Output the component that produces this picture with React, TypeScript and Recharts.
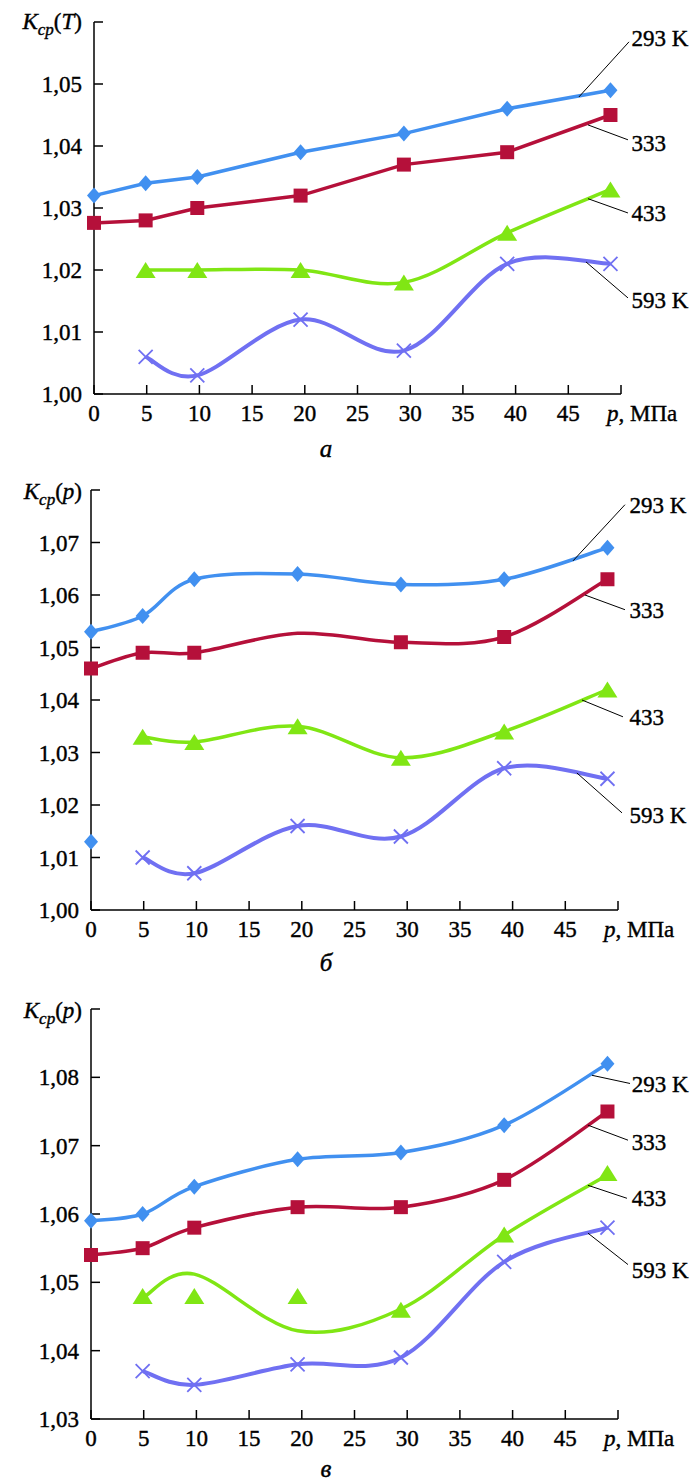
import React from 'react';
import { LineChart, Line, XAxis, YAxis, ReferenceLine, ReferenceDot } from 'recharts';

const FONT = '"Liberation Serif", "Times New Roman", serif';
const TXT_STROKE = 0.4;

// давление, МПа
const P = [0, 4.9, 9.8, 19.6, 29.4, 39.2, 49];
const X_TICKS = [0, 5, 10, 15, 20, 25, 30, 35, 40, 45, 50];

// панель а — Kср(T)
const a293 = [1.032, 1.034, 1.035, 1.039, 1.042, 1.046, 1.049];
const a333 = [1.0276, 1.028, 1.030, 1.032, 1.037, 1.039, 1.045];
const a433 = [null, 1.020, 1.020, 1.020, 1.018, 1.026, 1.033];
const a593 = [null, 1.006, 1.003, 1.012, 1.007, 1.021, 1.021];
const aTicks = [1.0, 1.01, 1.02, 1.03, 1.04, 1.05, 1.06];

// панель б — Kср(p)
const b293 = [1.053, 1.056, 1.063, 1.064, 1.062, 1.063, 1.069];
const b293extra = [1.013, null, null, null, null, null, null];
const b333 = [1.046, 1.049, 1.049, 1.0527, 1.051, 1.052, 1.063];
const b333pts = [1.046, 1.049, 1.049, null, 1.051, 1.052, 1.063];
const b433 = [null, 1.033, 1.032, 1.035, 1.029, 1.034, 1.042];
const b593 = [null, 1.010, 1.007, 1.016, 1.014, 1.027, 1.025];
const bTicks = [1.0, 1.01, 1.02, 1.03, 1.04, 1.05, 1.06, 1.07, 1.08];

// панель в — Kср(p)
const v293 = [1.059, 1.060, 1.064, 1.068, 1.069, 1.073, 1.082];
const v333 = [1.054, 1.055, 1.058, 1.061, 1.061, 1.065, 1.075];
const v433 = [null, 1.0477, 1.0512, 1.0429, 1.0461, 1.0569, 1.0657];
const v433pts = [null, 1.048, 1.048, 1.048, 1.046, 1.057, 1.066];
const v593 = [null, 1.037, 1.035, 1.038, 1.039, 1.053, 1.058];
const vTicks = [1.03, 1.04, 1.05, 1.06, 1.07, 1.08, 1.09];

const BLUE = '#4190f0';
const RED = '#b5103a';
const GREEN = '#80e614';
const PURPLE = '#7070f2';

// сглаживание как в Excel (Catmull-Rom через кривые Безье)
const smooth = (context: any) => {
  let pts: number[][] = [];
  return {
    areaStart() {},
    areaEnd() {},
    lineStart() {
      pts = [];
    },
    point(x: number, y: number) {
      pts.push([+x, +y]);
    },
    lineEnd() {
      const n = pts.length;
      if (!n) return;
      context.moveTo(pts[0][0], pts[0][1]);
      for (let i = 0; i < n - 1; i++) {
        const p0 = pts[Math.max(i - 1, 0)];
        const p1 = pts[i];
        const p2 = pts[i + 1];
        const p3 = pts[Math.min(i + 2, n - 1)];
        context.bezierCurveTo(
          p1[0] + (p2[0] - p0[0]) / 6,
          p1[1] + (p2[1] - p0[1]) / 6,
          p2[0] - (p3[0] - p1[0]) / 6,
          p2[1] - (p3[1] - p1[1]) / 6,
          p2[0],
          p2[1]
        );
      }
    },
  };
};

type Shape = 'diamond' | 'square' | 'triangle' | 'cross';
type Series = {
  line: (number | null)[];
  pts: (number | null)[];
  color: string;
  shape: Shape;
  curve: any;
  width: number;
};
type Note = { text: string; from: [number, number]; to: [number, number]; at: [number, number] };

const makeDot = (shape: Shape, color: string) => (props: any) => {
  const { cx, cy, index } = props;
  if (cx == null || cy == null || isNaN(cy)) return <g key={index} />;
  if (shape === 'diamond')
    return <polygon key={index} points={`${cx},${cy - 8} ${cx + 7},${cy} ${cx},${cy + 8} ${cx - 7},${cy}`} fill={color} />;
  if (shape === 'square') return <rect key={index} x={cx - 7} y={cy - 7} width={14} height={14} fill={color} />;
  if (shape === 'triangle')
    return <polygon key={index} points={`${cx},${cy - 8} ${cx + 10},${cy + 8} ${cx - 10},${cy + 8}`} fill={color} />;
  return (
    <path
      key={index}
      d={`M${cx - 7},${cy - 7}L${cx + 7},${cy + 7}M${cx + 7},${cy - 7}L${cx - 7},${cy + 7}`}
      stroke={color}
      strokeWidth={1.8}
      fill="none"
    />
  );
};

const XTick = (props: any) => {
  const { x, y, payload } = props;
  const common = { fill: '#000', stroke: '#000', strokeWidth: TXT_STROKE, fontSize: 23, fontFamily: FONT };
  if (payload.value === 50) {
    return (
      <text x={x - 14} y={y} dy="0.72em" textAnchor="start" {...common}>
        <tspan fontStyle="italic">p</tspan>, МПа
      </text>
    );
  }
  return (
    <text x={x} y={y} dy="0.72em" textAnchor="middle" {...common}>
      {payload.value}
    </text>
  );
};

interface PanelProps {
  top: number;
  height: number;
  yWidth: number;
  right: number;
  yTicks: number[];
  series: Series[];
  notes: Note[];
}

const Panel: React.FC<PanelProps> = ({ top, height, yWidth, right, yTicks, series, notes }) => {
  const rows = P.map((p, i) => {
    const row: any = { p };
    series.forEach((s, k) => {
      row['l' + k] = s.line[i];
      row['m' + k] = s.pts[i];
    });
    return row;
  });
  const yMax = yTicks[yTicks.length - 1];
  const axisStyle = { stroke: '#000', strokeWidth: 1.5 };
  return (
    <div style={{ position: 'absolute', left: 0, top }}>
      <LineChart width={695} height={height} data={rows} margin={{ top: 22, right, left: 0, bottom: 0 }}>
        <XAxis
          type="number"
          dataKey="p"
          domain={[0, 50]}
          ticks={X_TICKS}
          interval={0}
          height={36}
          tickSize={-9}
          tickMargin={19}
          axisLine={axisStyle}
          tickLine={axisStyle}
          tick={<XTick />}
        />
        <YAxis
          type="number"
          domain={[yTicks[0], yMax]}
          ticks={yTicks}
          interval={0}
          width={yWidth}
          tickSize={-9}
          tickMargin={21}
          axisLine={axisStyle}
          tickLine={axisStyle}
          tick={{ fill: '#000', stroke: '#000', strokeWidth: TXT_STROKE, fontSize: 23, fontFamily: FONT }}
          tickFormatter={(v: number) => (v === yMax ? '' : v.toFixed(2).replace('.', ','))}
        />
        {series.map((s, k) => (
          <Line
            key={'l' + k}
            dataKey={'l' + k}
            type={s.curve}
            stroke={s.color}
            strokeWidth={s.width}
            dot={false}
            activeDot={false}
            isAnimationActive={false}
          />
        ))}
        {series.map((s, k) => (
          <Line
            key={'m' + k}
            dataKey={'m' + k}
            stroke="none"
            strokeWidth={0}
            dot={makeDot(s.shape, s.color)}
            activeDot={false}
            isAnimationActive={false}
          />
        ))}
        {notes.map((n, i) => (
          <ReferenceLine
            key={'n' + i}
            segment={[
              { x: n.from[0], y: n.from[1] },
              { x: n.to[0], y: n.to[1] },
            ]}
            stroke="#000"
            strokeWidth={1}
            ifOverflow="visible"
          />
        ))}
        {notes.map((n, i) => (
          <ReferenceDot
            key={'t' + i}
            x={n.at[0]}
            y={n.at[1]}
            r={0}
            fill="none"
            stroke="none"
            ifOverflow="visible"
            label={{
              value: n.text,
              position: 'right',
              offset: 0,
              fill: '#000',
              stroke: '#000',
              strokeWidth: TXT_STROKE,
              fontSize: 23,
              fontFamily: FONT,
            }}
          />
        ))}
      </LineChart>
    </div>
  );
};

const seriesA: Series[] = [
  { line: a293, pts: a293, color: BLUE, shape: 'diamond', curve: 'linear', width: 3.5 },
  { line: a333, pts: a333, color: RED, shape: 'square', curve: 'linear', width: 3.5 },
  { line: a433, pts: a433, color: GREEN, shape: 'triangle', curve: smooth, width: 3.5 },
  { line: a593, pts: a593, color: PURPLE, shape: 'cross', curve: smooth, width: 4 },
];
const notesA: Note[] = [
  { text: '293 K', from: [46.0, 1.0479], to: [50.76, 1.0568], at: [51.0, 1.0574] },
  { text: '333', from: [46.87, 1.0434], to: [50.66, 1.041], at: [51.0, 1.0405] },
  { text: '433', from: [46.87, 1.0315], to: [50.66, 1.0292], at: [51.0, 1.0292] },
  { text: '593 K', from: [46.68, 1.0213], to: [50.66, 1.0155], at: [51.0, 1.0152] },
];

const seriesB: Series[] = [
  { line: b293, pts: b293, color: BLUE, shape: 'diamond', curve: smooth, width: 3.5 },
  { line: b333, pts: b333pts, color: RED, shape: 'square', curve: smooth, width: 3.5 },
  { line: b433, pts: b433, color: GREEN, shape: 'triangle', curve: smooth, width: 3.5 },
  { line: b593, pts: b593, color: PURPLE, shape: 'cross', curve: smooth, width: 4 },
  { line: [], pts: b293extra, color: BLUE, shape: 'diamond', curve: 'linear', width: 0 },
];
const notesB: Note[] = [
  { text: '293 K', from: [45.73, 1.0665], to: [50.66, 1.0772], at: [51.1, 1.0772] },
  { text: '333', from: [46.87, 1.06], to: [50.66, 1.0572], at: [51.1, 1.0572] },
  { text: '433', from: [46.58, 1.04], to: [50.47, 1.0368], at: [51.1, 1.0368] },
  { text: '593 K', from: [46.1, 1.0261], to: [50.38, 1.0185], at: [51.1, 1.0181] },
];

const seriesV: Series[] = [
  { line: v293, pts: v293, color: BLUE, shape: 'diamond', curve: smooth, width: 3.5 },
  { line: v333, pts: v333, color: RED, shape: 'square', curve: smooth, width: 3.5 },
  { line: v433, pts: v433pts, color: GREEN, shape: 'triangle', curve: smooth, width: 3.5 },
  { line: v593, pts: v593, color: PURPLE, shape: 'cross', curve: smooth, width: 4 },
];
const notesV: Note[] = [
  { text: '293 K', from: [47.53, 1.0803], to: [51.14, 1.0791], at: [51.3, 1.0791] },
  { text: '333', from: [47.15, 1.073], to: [50.95, 1.0708], at: [51.3, 1.0705] },
  { text: '433', from: [47.15, 1.0642], to: [50.85, 1.0623], at: [51.3, 1.0623] },
  { text: '593 K', from: [47.15, 1.0572], to: [50.95, 1.0526], at: [51.3, 1.0518] },
];

const htmlText: React.CSSProperties = {
  position: 'absolute',
  fontFamily: FONT,
  color: '#000',
  whiteSpace: 'nowrap',
  WebkitTextStroke: `${TXT_STROKE}px #000`,
};

const YTitle: React.FC<{ top: number; arg: string }> = ({ top, arg }) => (
  <div style={{ ...htmlText, right: 613, top, fontSize: 23, lineHeight: '23px' }}>
    <i>K</i>
    <i style={{ fontSize: 17, position: 'relative', top: 6 }}>ср</i>(<i>{arg}</i>)
  </div>
);

const Caption: React.FC<{ top: number; text: string }> = ({ top, text }) => (
  <div
    style={{
      ...htmlText,
      left: 296,
      width: 60,
      top,
      textAlign: 'center',
      fontSize: 25,
      lineHeight: '24px',
      fontStyle: 'italic',
    }}
  >
    {text}
  </div>
);

export default function App() {
  return (
    <div style={{ position: 'absolute', left: 0, top: 0, width: 695, height: 1484, background: '#fff', overflow: 'hidden' }}>
      <Panel top={0} height={430} yWidth={94} right={74} yTicks={aTicks} series={seriesA} notes={notesA} />
      <Panel top={468} height={478} yWidth={91} right={77} yTicks={bTicks} series={seriesB} notes={notesB} />
      <Panel top={987} height={468} yWidth={91} right={77} yTicks={vTicks} series={seriesV} notes={notesV} />
      <YTitle top={10} arg="T" />
      <YTitle top={480} arg="p" />
      <YTitle top={999} arg="p" />
      <Caption top={437} text="а" />
      <Caption top={951} text="б" />
      <Caption top={1457} text="в" />
    </div>
  );
}
